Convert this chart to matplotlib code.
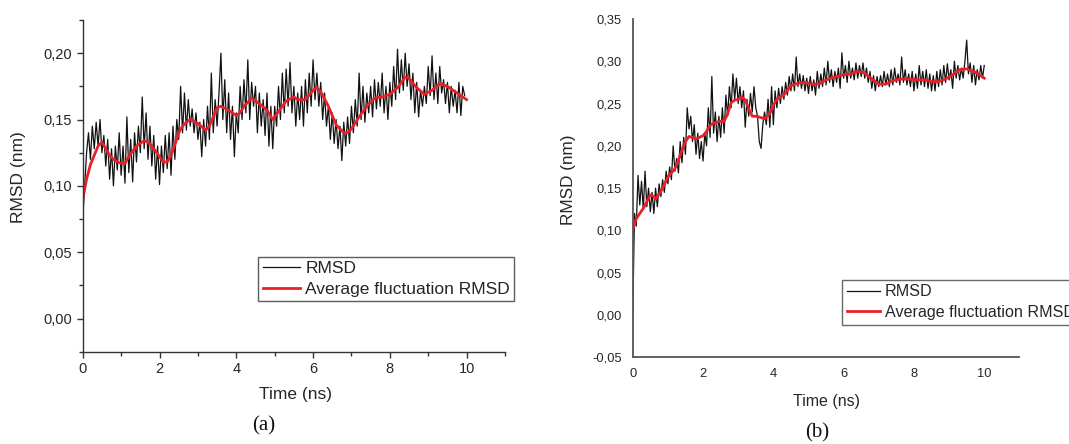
import numpy as np
import matplotlib
matplotlib.use("Agg")
import matplotlib.pyplot as plt
from matplotlib.ticker import MultipleLocator, FuncFormatter

plt.rcParams['font.family'] = ['Liberation Sans', 'DejaVu Sans']

# sampling step of the hand-read traces (ns)
step = 0.05

# panel (a): raw RMSD, every 0.05 ns from 0 to 10
rmsd_a = [
    0.075, 0.100,
    0.125, 0.140, 0.120, 0.145, 0.128, 0.148, 0.130, 0.150, 0.125,
    0.138, 0.115, 0.135, 0.105, 0.128, 0.100, 0.130, 0.112, 0.140, 0.108,
    0.130, 0.102, 0.152, 0.110, 0.135, 0.103, 0.140, 0.118, 0.145, 0.125,
    0.167, 0.128, 0.155, 0.120, 0.145, 0.115, 0.138, 0.105, 0.130, 0.101,
    0.130, 0.110, 0.138, 0.113, 0.140, 0.108, 0.145, 0.120, 0.150, 0.135,
    0.175, 0.140, 0.170, 0.142, 0.165, 0.145, 0.158, 0.140, 0.155, 0.135,
    0.148, 0.122, 0.150, 0.130, 0.160, 0.135, 0.185, 0.140, 0.165, 0.145,
    0.170, 0.200, 0.150, 0.180, 0.140, 0.170, 0.135, 0.160, 0.122, 0.155,
    0.140, 0.175, 0.150, 0.180, 0.155, 0.195, 0.150, 0.178, 0.160, 0.175,
    0.140, 0.170, 0.145, 0.165, 0.138, 0.170, 0.130, 0.160, 0.128, 0.160,
    0.145, 0.175, 0.150, 0.185, 0.155, 0.188, 0.160, 0.193, 0.155, 0.175,
    0.145, 0.170, 0.150, 0.175, 0.145, 0.180, 0.155, 0.185, 0.160, 0.195,
    0.165, 0.185, 0.160, 0.178, 0.150, 0.170, 0.145, 0.160, 0.135, 0.155,
    0.132, 0.150, 0.128, 0.145, 0.119, 0.148, 0.130, 0.152, 0.132, 0.160,
    0.140, 0.165, 0.145, 0.185, 0.150, 0.175, 0.148, 0.170, 0.155, 0.175,
    0.152, 0.180, 0.158, 0.178, 0.160, 0.185, 0.155, 0.175, 0.150, 0.178,
    0.160, 0.190, 0.165, 0.203, 0.170, 0.195, 0.172, 0.200, 0.175, 0.192,
    0.165, 0.185, 0.155, 0.178, 0.152, 0.172, 0.160, 0.175, 0.162, 0.190,
    0.168, 0.198, 0.165, 0.185, 0.162, 0.190, 0.170, 0.180, 0.162, 0.178,
    0.155, 0.175, 0.160, 0.172, 0.155, 0.178, 0.153, 0.175, 0.168,
]

# panel (a): smoothed average curve
avg_a_t = [0, 0.1, 0.2, 0.3, 0.4, 0.5, 0.6, 0.7, 0.8, 0.9, 1.0, 1.1, 1.2, 1.3,
           1.4, 1.6, 1.7, 1.8, 1.9, 2.0, 2.1, 2.2, 2.3, 2.4, 2.5, 2.6, 2.7,
           2.8, 3.0, 3.2, 3.3, 3.4, 3.5, 3.6, 3.8, 4.0, 4.1, 4.2, 4.4, 4.6,
           4.8, 4.95, 5.1, 5.3, 5.5, 5.6, 5.8, 6.0, 6.1, 6.2, 6.4, 6.6, 6.8,
           6.9, 7.0, 7.2, 7.4, 7.6, 7.8, 8.0, 8.2, 8.4, 8.5, 8.7, 8.9, 9.1,
           9.3, 9.5, 9.7, 9.9, 10.0]
avg_a = [0.090, 0.105, 0.116, 0.123, 0.130, 0.133, 0.128, 0.123, 0.120, 0.118,
         0.117, 0.117, 0.122, 0.126, 0.130, 0.134, 0.133, 0.130, 0.126, 0.122,
         0.118, 0.118, 0.123, 0.131, 0.140, 0.145, 0.148, 0.150, 0.147, 0.142,
         0.145, 0.152, 0.159, 0.160, 0.157, 0.153, 0.155, 0.160, 0.166, 0.162,
         0.157, 0.150, 0.156, 0.164, 0.167, 0.165, 0.165, 0.172, 0.174, 0.171,
         0.160, 0.146, 0.140, 0.140, 0.143, 0.152, 0.160, 0.166, 0.167, 0.169,
         0.174, 0.182, 0.181, 0.174, 0.169, 0.172, 0.177, 0.175, 0.171, 0.167,
         0.165]

# panel (b): raw RMSD, every 0.05 ns from 0 to 10
rmsd_b = [
    0.000, 0.120,
    0.105, 0.165, 0.130, 0.158, 0.125, 0.170, 0.128, 0.150, 0.122,
    0.145, 0.120, 0.150, 0.128, 0.155, 0.140, 0.160, 0.145, 0.170, 0.155,
    0.175, 0.160, 0.200, 0.170, 0.185, 0.168, 0.205, 0.180, 0.210, 0.190,
    0.245, 0.220, 0.235, 0.205, 0.225, 0.190, 0.215, 0.185, 0.205, 0.182,
    0.215, 0.200, 0.245, 0.210, 0.282, 0.215, 0.240, 0.205, 0.235, 0.210,
    0.245, 0.215, 0.260, 0.235, 0.270, 0.245, 0.285, 0.255, 0.280, 0.250,
    0.270, 0.245, 0.265, 0.222, 0.255, 0.235, 0.262, 0.240, 0.270, 0.245,
    0.235, 0.205, 0.197, 0.225, 0.240, 0.225, 0.255, 0.222, 0.270, 0.225,
    0.265, 0.245, 0.268, 0.250, 0.270, 0.255, 0.275, 0.260, 0.282, 0.265,
    0.285, 0.265, 0.305, 0.270, 0.285, 0.268, 0.283, 0.265, 0.280, 0.262,
    0.282, 0.265, 0.278, 0.260, 0.288, 0.268, 0.285, 0.270, 0.292, 0.272,
    0.300, 0.275, 0.290, 0.270, 0.288, 0.275, 0.292, 0.268, 0.310, 0.280,
    0.295, 0.275, 0.300, 0.280, 0.292, 0.278, 0.298, 0.280, 0.295, 0.282,
    0.298, 0.280, 0.292, 0.275, 0.288, 0.268, 0.283, 0.265, 0.282, 0.270,
    0.283, 0.270, 0.288, 0.272, 0.285, 0.270, 0.290, 0.272, 0.292, 0.275,
    0.285, 0.272, 0.305, 0.275, 0.290, 0.272, 0.285, 0.270, 0.288, 0.265,
    0.285, 0.268, 0.295, 0.272, 0.288, 0.270, 0.290, 0.268, 0.285, 0.265,
    0.283, 0.265, 0.288, 0.270, 0.290, 0.272, 0.295, 0.275, 0.297, 0.278,
    0.290, 0.268, 0.300, 0.280, 0.295, 0.278, 0.292, 0.280, 0.300, 0.325,
    0.285, 0.298, 0.275, 0.295, 0.272, 0.290, 0.278, 0.295, 0.280, 0.295,
]

avg_b_t = [0, 0.1, 0.2, 0.3, 0.4, 0.5, 0.6, 0.65, 0.8, 1.0, 1.2, 1.3, 1.4,
           1.5, 1.6, 1.7, 1.8, 1.9, 2.0, 2.1, 2.2, 2.3, 2.5, 2.6, 2.7, 2.8,
           2.9, 3.0, 3.1, 3.2, 3.3, 3.4, 3.5, 3.6, 3.75, 3.9, 4.0, 4.1, 4.3,
           4.5, 4.7, 4.9, 5.1, 5.3, 5.5, 5.8, 6.0, 6.2, 6.4, 6.6, 6.8, 7.0,
           7.2, 7.4, 7.6, 7.9, 8.1, 8.3, 8.5, 8.7, 8.9, 9.1, 9.3, 9.5, 9.7,
           9.9, 10.0]
avg_b = [0.101, 0.114, 0.120, 0.126, 0.134, 0.142, 0.140, 0.137, 0.146, 0.163,
         0.173, 0.183, 0.195, 0.205, 0.211, 0.210, 0.208, 0.210, 0.212, 0.217,
         0.224, 0.227, 0.229, 0.229, 0.238, 0.251, 0.254, 0.255, 0.258, 0.254,
         0.244, 0.235, 0.235, 0.234, 0.232, 0.238, 0.248, 0.255, 0.260, 0.271,
         0.274, 0.275, 0.273, 0.273, 0.278, 0.282, 0.284, 0.285, 0.288, 0.286,
         0.279, 0.273, 0.273, 0.277, 0.279, 0.279, 0.278, 0.278, 0.276, 0.276,
         0.279, 0.284, 0.290, 0.291, 0.288, 0.283, 0.280]

t_a = np.arange(len(rmsd_a)) * step
t_b = np.arange(len(rmsd_b)) * step

comma = FuncFormatter(lambda v, p: ('%.2f' % v).replace('.', ','))
txt = '#262626'

fig = plt.figure(figsize=(10.69, 4.44), dpi=100)

# ---- panel (a)
ax1 = fig.add_axes([0.0774, 0.2079, 0.395, 0.747])
ax1.plot(t_a, rmsd_a, color='#111111', lw=0.9, label='RMSD')
ax1.plot(avg_a_t, avg_a, color='#e8202a', lw=2.0, label='Average fluctuation RMSD')
ax1.set_xlim(0, 11)
ax1.set_ylim(-0.025, 0.225)
ax1.xaxis.set_major_locator(MultipleLocator(2))
ax1.xaxis.set_minor_locator(MultipleLocator(1))
ax1.yaxis.set_major_locator(MultipleLocator(0.05))
ax1.yaxis.set_minor_locator(MultipleLocator(0.025))
ax1.set_xticks([0, 2, 4, 6, 8, 10])
ax1.yaxis.set_major_formatter(comma)
for s in ['top', 'right']:
    ax1.spines[s].set_visible(False)
for s in ['left', 'bottom']:
    ax1.spines[s].set_color('#333333')
    ax1.spines[s].set_linewidth(1.0)
ax1.tick_params(which='major', length=4.5, width=1, color='#333333',
                labelsize=10.5, labelcolor=txt, pad=3)
ax1.tick_params(which='minor', length=3, width=1, color='#333333')
ax1.set_xlabel('Time (ns)', fontsize=12.5, color=txt)
ax1.set_ylabel('RMSD (nm)', fontsize=12.5, color=txt)
ax1.xaxis.set_label_coords(0.503, -0.1305)
ax1.xaxis.label.set_va('center')
ax1.yaxis.set_label_coords(-0.151, 0.525)
ax1.yaxis.label.set_va('center')
leg1 = ax1.legend(loc='upper left', bbox_to_anchor=(0.2416, 0.4218),
                  bbox_transform=fig.transFigure, fontsize=12.5, frameon=True,
                  fancybox=False, borderpad=0.25, labelspacing=0.31,
                  handlelength=2.15, handletextpad=0.3, borderaxespad=0)
leg1.get_frame().set_edgecolor('#333333')
leg1.get_frame().set_linewidth(1.0)
for t in leg1.get_texts():
    t.set_color(txt)

# ---- panel (b)
ax2 = fig.add_axes([0.5919, 0.1953, 0.3617, 0.762])
ax2.plot(t_b, rmsd_b, color='#111111', lw=0.9, label='RMSD')
ax2.plot(avg_b_t, avg_b, color='#e8202a', lw=2.0, label='Average fluctuation RMSD')
ax2.set_xlim(0, 11)
ax2.set_ylim(-0.05, 0.35)
ax2.set_xticks([0, 2, 4, 6, 8, 10])
ax2.yaxis.set_major_locator(MultipleLocator(0.05))
ax2.yaxis.set_major_formatter(comma)
for s in ['top', 'right']:
    ax2.spines[s].set_visible(False)
for s in ['left', 'bottom']:
    ax2.spines[s].set_color('#555555')
    ax2.spines[s].set_linewidth(1.3)
ax2.tick_params(length=0, labelsize=9.3, labelcolor=txt, pad=8)
ax2.set_xlabel('Time (ns)', fontsize=11.5, color=txt)
ax2.set_ylabel('RMSD (nm)', fontsize=12.3, color=txt)
ax2.xaxis.set_label_coords(0.502, -0.131)
ax2.xaxis.label.set_va('center')
ax2.yaxis.set_label_coords(-0.166, 0.524)
ax2.yaxis.label.set_va('center')
leg2 = ax2.legend(loc='upper left', bbox_to_anchor=(0.7877, 0.3694),
                  bbox_transform=fig.transFigure, fontsize=11.6, frameon=True,
                  fancybox=False, borderpad=0.28, labelspacing=0.35,
                  handlelength=2.1, handletextpad=0.28, borderaxespad=0)
leg2.get_frame().set_edgecolor('#444444')
leg2.get_frame().set_linewidth(1.0)
for t in leg2.get_texts():
    t.set_color(txt)

fig.text(264 / 1069, 1 - 426 / 444, '(a)', family='Liberation Serif',
         fontsize=15, ha='center', va='center', color='#111111')
fig.text(816.7 / 1069, 1 - 433 / 444, '(b)', family='Liberation Serif',
         fontsize=15, ha='center', va='center', color='#111111')

fig.savefig('out.png', dpi=100)
